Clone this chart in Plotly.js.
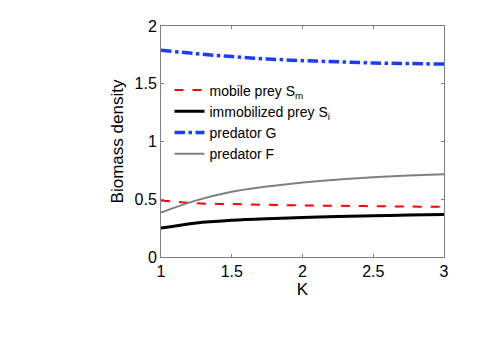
<!DOCTYPE html>
<html>
<head>
<meta charset="utf-8">
<script src="https://cdn.plot.ly/plotly-3.0.1.min.js"></script>
<style>
  body { margin: 0; background: #fff; }
  #chart { width: 491px; height: 357px; }
</style>
</head>
<body>
<div id="chart"></div>
<script>
var K = [1, 1.25, 1.5, 1.75, 2, 2.25, 2.5, 2.75, 3];
var mobilePrey = [0.49, 0.465, 0.458, 0.452, 0.447, 0.443, 0.44, 0.437, 0.434];
var immobilizedPrey = [0.25, 0.295, 0.318, 0.332, 0.342, 0.35, 0.357, 0.363, 0.368];
var predatorG = [1.79, 1.76, 1.735, 1.715, 1.70, 1.69, 1.68, 1.675, 1.67];
var predatorF = [0.385, 0.49, 0.565, 0.61, 0.645, 0.67, 0.69, 0.705, 0.716];

var sm = {
  x: K, y: mobilePrey, mode: 'lines',
  name: 'mobile prey S<sub>m</sub>',
  line: { color: 'rgb(255,0,0)', width: 2, dash: 'dash', shape: 'spline' }
};
var si = {
  x: K, y: immobilizedPrey, mode: 'lines',
  name: 'immobilized prey S<sub>i</sub>',
  line: { color: 'rgb(0,0,0)', width: 3, shape: 'spline' }
};
var g = {
  x: K, y: predatorG, mode: 'lines',
  name: 'predator G',
  line: { color: 'rgb(30,60,255)', width: 3.5, dash: 'dashdot', shape: 'spline' }
};
var f = {
  x: K, y: predatorF, mode: 'lines',
  name: 'predator F',
  line: { color: 'rgb(128,128,128)', width: 2, shape: 'spline' }
};

var axisStyle = {
  showgrid: false, zeroline: false,
  showline: true, mirror: 'ticks',
  linecolor: 'rgb(128,128,128)', linewidth: 1,
  ticks: 'inside', ticklen: 3, tickcolor: 'rgb(128,128,128)',
  tickfont: { family: 'Liberation Sans, Arial, sans-serif', size: 16, color: '#000' }
};

var layout = {
  width: 491, height: 357,
  margin: { l: 161, r: 47, t: 26, b: 100 },
  paper_bgcolor: '#fff', plot_bgcolor: '#fff',
  showlegend: true,
  legend: {
    x: 0.03, y: 0.79, xanchor: 'left', yanchor: 'top',
    bgcolor: 'rgba(0,0,0,0)', itemwidth: 30, tracegroupgap: 0,
    font: { family: 'Liberation Sans, Arial, sans-serif', size: 14, color: '#000' }
  },
  xaxis: Object.assign({}, axisStyle, {
    range: [1, 3], tickvals: [1, 1.5, 2, 2.5, 3], ticktext: ['1', '1.5', '2', '2.5', '3'],
    title: { text: 'K', standoff: 0, font: { family: 'Liberation Sans, Arial, sans-serif', size: 17, color: '#000' } }
  }),
  yaxis: Object.assign({}, axisStyle, {
    range: [0, 2], tickvals: [0, 0.5, 1, 1.5, 2], ticktext: ['0', '0.5', '1', '1.5', '2'],
    title: { text: 'Biomass density', standoff: 6, font: { family: 'Liberation Sans, Arial, sans-serif', size: 17, color: '#000' } }
  })
};

Plotly.newPlot('chart', [sm, si, g, f], layout, { displayModeBar: false, staticPlot: true });
</script>
</body>
</html>
